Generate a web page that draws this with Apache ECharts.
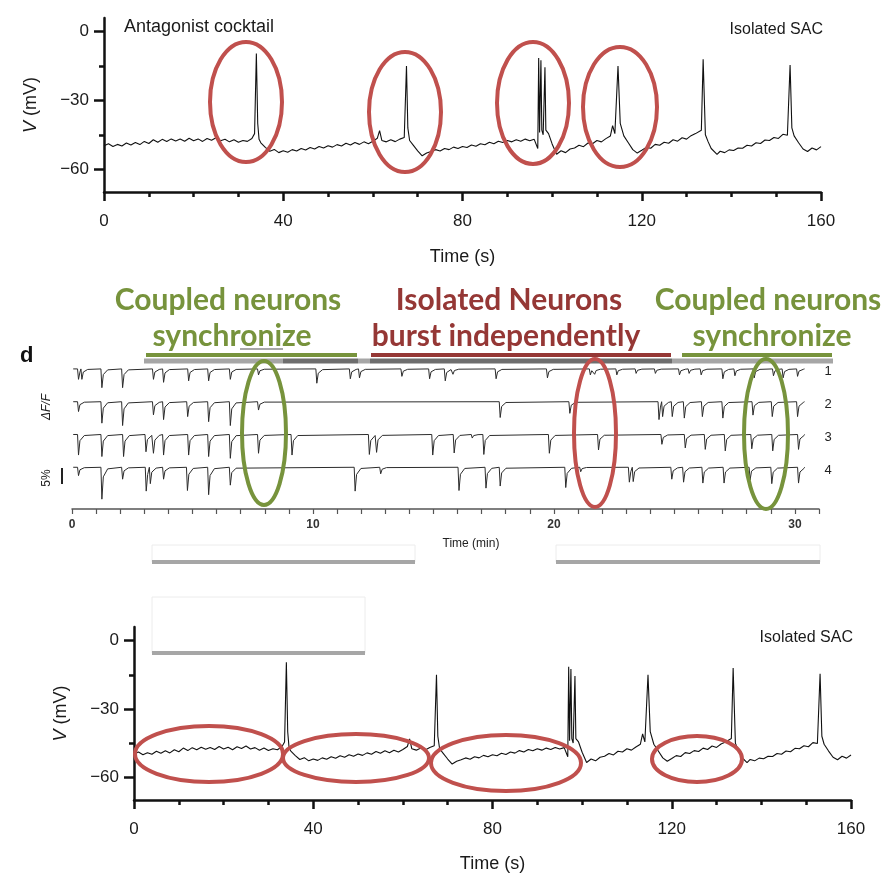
<!DOCTYPE html>
<html>
<head>
<meta charset="utf-8">
<script src="https://cdn.jsdelivr.net/npm/echarts@6/dist/echarts.min.js"></script>
<style>
  html, body { margin: 0; padding: 0; background: #fff; }
  #main { width: 891px; height: 878px; }
</style>
</head>
<body>
<div id="main"></div>
<script>
// membrane potential of the isolated SAC, [time (s), V (mV)]
var vmTrace = [
  [0,-49.8],[1,-48.9],[2,-50.1],[3,-49.2],[4,-49.9],[5,-48.6],[6,-49.5],[7,-48.4],[8,-49.3],[9,-47.9],
  [10,-48.8],[11,-47.2],[12,-48.3],[13,-47.0],[14,-47.9],[15,-46.8],[16,-47.7],[17,-46.9],[18,-47.8],[19,-46.5],
  [20,-47.6],[21,-46.8],[22,-47.9],[23,-46.6],[24,-47.4],[25,-46.3],[26,-47.6],[27,-47.0],[28,-48.1],[29,-47.2],
  [30,-48.3],[31,-47.5],[32,-47.9],[33,-46.6],[33.6,-44.5],[34.0,-9.5],[34.3,-40],[34.6,-47],[35,-48.5],[36,-50.5],
  [37,-52.2],[38,-51.4],[39,-52.8],[40,-52.0],[41,-52.6],[42,-51.5],[43,-52.1],[44,-51.0],[45,-51.7],[46,-50.6],
  [47,-51.2],[48,-50.1],[49,-50.8],[50,-49.8],[51,-50.4],[52,-49.3],[53,-49.9],[54,-48.7],[55,-49.5],[56,-48.4],
  [57,-49.2],[58,-48.1],[59,-48.9],[60,-47.8],[61,-46.5],[61.5,-43.2],[62,-47.5],[63,-48.1],[64,-47.2],[65,-48.0],
  [66,-46.9],[67,-46.2],[67.5,-15],[67.8,-42],[68.2,-47.5],[69,-49.5],[70,-52],[71,-54.2],[72,-53],[73,-52.3],
  [74,-51.5],[75,-52.1],[76,-51],[77,-51.5],[78,-50.4],[79,-51],[80,-50.1],[81,-50.6],[82,-49.5],[83,-50],
  [84,-48.9],[85,-49.4],[86,-48.3],[87,-48.9],[88,-47.8],[89,-48.4],[90,-47.5],[91,-48.1],[92,-47.2],[93,-47.8],
  [94,-46.9],[95,-47.6],[96,-47],[96.8,-51],[97.0,-11.5],[97.2,-44],[97.5,-12.5],[97.7,-43],[98.0,-45],[98.4,-15.5],
  [98.6,-43],[99.2,-44.5],[100,-49],[101,-53.5],[102,-52],[103,-52.8],[104,-51.2],[105,-50.8],[106,-49.6],[107,-50.2],
  [108,-48.6],[109,-48.9],[110,-47.5],[111,-48.1],[112,-46.7],[113,-45.5],[113.5,-41],[114,-44.5],[114.7,-15],[115.2,-40],
  [116,-45.5],[117,-48.5],[118,-51.5],[119,-53],[120,-51.8],[121,-50.5],[122,-50.9],[123,-49.2],[124,-49.6],[125,-48.3],
  [126,-48.7],[127,-47.2],[128,-47.8],[129,-46.3],[130,-46.9],[131,-45.4],[132,-44.5],[133.3,-43],[133.7,-12],[134.2,-45],
  [134.8,-48],[135.5,-51],[136.8,-53.6],[137.5,-52.2],[138.5,-52.8],[139.5,-51.6],[140.5,-51.9],[141.5,-50.8],[142.5,-50.9],[143.5,-49.6],
  [144.5,-49.9],[145.5,-48.5],[146.5,-48.8],[147.5,-47.3],[148.5,-47.5],[149.5,-46.2],[150.5,-46.6],[151.5,-44.8],[152.5,-45.2],[153.1,-14.5],
  [153.5,-42],[154,-45.5],[155,-48.5],[156,-51.2],[157,-52.3],[158,-50.8],[159,-51.6],[160,-50.2]
];

// calcium events per neuron, [time (min), dF/F drop (%)]
var cell1Events = [
  [0.26,3.5],[0.4,3.5],[1.23,6.3],[2.09,6.3],[3.37,3.5],[3.79,4.5],[4.83,4],[5.66,4],[6.56,3.5],[7.73,2],
  [10.15,4.8],[11.54,3.3],[11.92,3],[13.68,2.5],[14.83,3.3],[15.48,4],[15.8,1.8],[17.59,3.3],[19.72,3],
  [21.5,2],[21.68,1.8],[22.6,2],[23.4,1.5],[24.2,1.5],[25.2,2],[25.6,1.5],[26.1,2],[27.0,3.3],[27.5,2.3],
  [28.3,3],[29.1,2.3],[29.5,3],[30.1,2.5]
];
var cell2Events = [
  [0.26,3.3],[1.23,7.2],[2.09,8],[3.37,4.4],[3.79,6],[4.79,5],[5.66,6.7],[6.56,8],[7.73,2.8],[17.76,5.3],
  [20.65,3.9],[24.35,6],[24.5,5],[24.9,5],[25.4,5.5],[26.15,5],[27.0,5.5],[28.25,4.5],[29.05,5],[30.1,5]
];
var cell3Events = [
  [0.26,6.9],[1.23,7.4],[2.13,7.4],[3.06,5.8],[3.37,6.3],[3.79,6.9],[4.83,6.9],[5.66,7.4],[6.56,8],[7.73,6.3],
  [9.12,6.9],[12.33,6.7],[12.63,6],[14.96,6.9],[15.85,6.2],[16.6,1.2],[17.08,6.7],[19.8,6.3],[21.84,5.2],
  [24.47,3.3],[25.44,4.5],[26.27,5],[27.1,5.5],[28.2,4.8],[29.07,5.5],[30.14,5]
];
var cell4Events = [
  [0.26,2.8],[1.23,10.7],[2.09,4],[3.07,8],[3.24,5.5],[3.79,4],[4.78,7.8],[5.66,9.2],[6.56,6],[11.74,8],
  [12.8,2.2],[16.05,7.8],[17.17,7],[17.76,6.3],[20.48,6.8],[21.1,1.5],[23.12,5],[23.28,4.8],[24.88,4],
  [25.37,5],[26.17,5.3],[27.05,5.3],[28.13,4.3],[29.03,5.5],[30.14,5.3]
];
var cellLabels = ['1', '2', '3', '4'];
var cellOffsets = [0, -11, -22, -33];

var vTicks = [-60, -30, 0];
var vMinorTicks = [-45, -15];
var minTicks = [0, 10, 20, 30];

var RED = '#c0504d', GREEN = '#77933c', DARKRED = '#953735';
var LIGHTBAR = '#a6a6a6', DARKBAR = '#6e6e6e';

// turn an event list into a line: flat baseline with sharp drops
function eventTrace(events, offset) {
  var pts = [[0.05, offset]];
  for (var i = 0; i < events.length; i++) {
    var t = events[i][0], d = events[i][1];
    var next = i + 1 < events.length ? events[i + 1][0] : 99;
    pts.push([t - 0.03, offset]);
    pts.push([t + 0.01, offset - d]);
    if (t + 0.07 < next - 0.03) pts.push([t + 0.07, offset - d * 0.3]);
    if (t + 0.25 < next - 0.03) pts.push([t + 0.25, offset - d * 0.05]);
  }
  pts.push([30.4, offset]);
  return pts;
}

function minus(v) { return v < 0 ? '\u2212' + (-v) : '' + v; }

var axisFont = { fontFamily: 'Liberation Sans', fontSize: 17, color: '#1a1a1a' };

function vmXAxis(gridIndex, gap) {
  return {
    type: 'value', gridIndex: gridIndex, min: 0, max: 160, interval: 40,
    name: 'Time (s)', nameLocation: 'middle', nameGap: gap,
    nameTextStyle: { fontFamily: 'Liberation Sans', fontSize: 18, color: '#1a1a1a' },
    axisLine: { onZero: false, lineStyle: { color: '#111', width: 2.5 } },
    axisTick: { length: 9, lineStyle: { color: '#111', width: 2.5 } },
    minorTick: { show: true, splitNumber: 4, length: 5, lineStyle: { color: '#111', width: 2.5 } },
    axisLabel: Object.assign({ margin: 21 }, axisFont),
    splitLine: { show: false }
  };
}
function vmYAxis(gridIndex) {
  return {
    type: 'value', gridIndex: gridIndex, min: -70, max: 6,
    name: '{i|V} (mV)', nameLocation: 'middle', nameGap: 64, nameRotate: 90,
    nameTextStyle: {
      fontFamily: 'Liberation Sans', fontSize: 18, color: '#1a1a1a',
      rich: { i: { fontFamily: 'Liberation Sans', fontSize: 18, fontStyle: 'italic', color: '#1a1a1a' } }
    },
    axisLine: { show: true, onZero: false, lineStyle: { color: '#111', width: 2.5 } },
    axisTick: { show: true, length: 10, customValues: vTicks, lineStyle: { color: '#111', width: 2.5 } },
    axisLabel: Object.assign({ margin: 15, customValues: vTicks, formatter: minus }, axisFont),
    splitLine: { show: false }
  };
}
function vmMinorAxis(gridIndex) {
  return {
    type: 'value', gridIndex: gridIndex, min: -70, max: 6, position: 'left',
    axisLine: { show: false, onZero: false },
    axisTick: { show: true, length: 5, customValues: vMinorTicks, lineStyle: { color: '#111', width: 2.5 } },
    axisLabel: { show: false },
    splitLine: { show: false }
  };
}

var chartDom = document.getElementById('main');
var myChart = echarts.init(chartDom);
var option;

var series = [
  { type: 'line', xAxisIndex: 0, yAxisIndex: 0, data: vmTrace, showSymbol: false, silent: true,
    lineStyle: { color: '#111', width: 1.1 } },
  { type: 'line', xAxisIndex: 2, yAxisIndex: 3, data: vmTrace, showSymbol: false, silent: true,
    lineStyle: { color: '#111', width: 1.1 } }
];
[cell1Events, cell2Events, cell3Events, cell4Events].forEach(function (ev, i) {
  series.push({
    type: 'line', xAxisIndex: 1, yAxisIndex: 2, data: eventTrace(ev, cellOffsets[i]),
    showSymbol: false, silent: true,
    lineStyle: { color: '#2b2b2b', width: 1 },
    endLabel: { show: true, formatter: cellLabels[i], offset: [12, 3],
      fontFamily: 'Liberation Sans', fontSize: 13, color: '#222' }
  });
});

function ellipse(cx, cy, rx, ry, color) {
  return { type: 'ellipse', shape: { cx: cx, cy: cy, rx: rx, ry: ry }, z: 100,
    style: { fill: 'none', stroke: color, lineWidth: 4 } };
}
function bar(x1, x2, y, color, w) {
  return { type: 'line', shape: { x1: x1, y1: y, x2: x2, y2: y }, z: 50,
    style: { stroke: color, lineWidth: w || 4 } };
}
function label(text, x, y, color, font, align) {
  return { type: 'text', x: x, y: y, z: 60,
    style: { text: text, fill: color, font: font, align: align || 'center', textAlign: align || 'center',
      verticalAlign: 'middle', textVerticalAlign: 'middle' } };
}
var bigFont = 'bold 30px Lato';

option = {
  animation: false,
  grid: [
    { left: 104, width: 717, top: 18, height: 174 },
    { left: 72, width: 747, top: 357, height: 152 },
    { left: 134, width: 717, top: 627, height: 173 }
  ],
  xAxis: [
    vmXAxis(0, 56),
    {
      type: 'value', gridIndex: 1, min: 0, max: 31, interval: 1,
      axisLine: { onZero: false, lineStyle: { color: '#555', width: 1.5 } },
      axisTick: { length: 5, lineStyle: { color: '#555', width: 1.2 } },
      axisLabel: { customValues: minTicks, margin: 10, fontFamily: 'Liberation Sans', fontSize: 12,
        fontWeight: 'bold', color: '#333' },
      splitLine: { show: false }
    },
    vmXAxis(2, 55)
  ],
  yAxis: [
    vmYAxis(0),
    vmMinorAxis(0),
    { type: 'value', gridIndex: 1, min: -47, max: 4, show: false },
    vmYAxis(2),
    vmMinorAxis(2)
  ],
  series: series,
  graphic: [
    // panel labels
    label('Antagonist cocktail', 124, 27, '#1a1a1a', '18px Liberation Sans', 'left'),
    label('Isolated SAC', 823, 30, '#1a1a1a', '16px Liberation Sans', 'right'),
    label('Isolated SAC', 853, 638, '#1a1a1a', '16px Liberation Sans', 'right'),
    label('d', 20, 356, '#111', 'bold 22px Liberation Sans', 'left'),
    { type: 'text', x: 47, y: 407, rotation: Math.PI / 2, z: 60,
      style: { text: '\u0394F/F', fill: '#222', font: 'italic 12px Liberation Sans',
        align: 'center', textAlign: 'center', verticalAlign: 'middle', textVerticalAlign: 'middle' } },
    { type: 'text', x: 47, y: 478, rotation: Math.PI / 2, z: 60,
      style: { text: '5%', fill: '#222', font: '12px Liberation Sans',
        align: 'center', textAlign: 'center', verticalAlign: 'middle', textVerticalAlign: 'middle' } },
    { type: 'line', shape: { x1: 62, y1: 468, x2: 62, y2: 484 }, style: { stroke: '#222', lineWidth: 2 } },
    label('Time (min)', 471, 544, '#222', '12px Liberation Sans'),

    // headings over the imaging panel
    label('Coupled neurons', 228, 300, GREEN, bigFont),
    label('synchronize', 232, 336, GREEN, bigFont),
    label('Isolated Neurons', 509, 300, DARKRED, bigFont),
    label('burst independently', 506, 336, DARKRED, bigFont),
    label('Coupled neurons', 768, 300, GREEN, bigFont),
    label('synchronize', 772, 336, GREEN, bigFont),
    bar(146, 357, 355, GREEN, 4),
    bar(371, 671, 355, DARKRED, 4),
    bar(682, 832, 355, GREEN, 4),
    bar(240, 283, 349, '#8a8a8a', 1.5),

    // drug application bars
    bar(144, 283, 361, LIGHTBAR, 5),
    bar(283, 358, 361, DARKBAR, 5),
    bar(358, 370, 361, LIGHTBAR, 5),
    bar(370, 672, 361, DARKBAR, 5),
    bar(672, 680, 361, LIGHTBAR, 5),
    bar(680, 833, 361, LIGHTBAR, 5),
    bar(152, 415, 562, LIGHTBAR, 4),
    bar(556, 820, 562, LIGHTBAR, 4),
    bar(152, 365, 653, LIGHTBAR, 4),
    { type: 'rect', shape: { x: 152, y: 545, width: 263, height: 17 }, style: { fill: 'none', stroke: '#ececec', lineWidth: 1 } },
    { type: 'rect', shape: { x: 556, y: 545, width: 264, height: 17 }, style: { fill: 'none', stroke: '#ececec', lineWidth: 1 } },
    { type: 'rect', shape: { x: 152, y: 597, width: 213, height: 56 }, style: { fill: 'none', stroke: '#ececec', lineWidth: 1 } },

    // highlight ellipses
    ellipse(246, 102, 36, 60, RED),
    ellipse(405, 112, 36, 60, RED),
    ellipse(533, 103, 36, 61, RED),
    ellipse(620, 107, 37, 60, RED),
    ellipse(264, 433, 22, 72, GREEN),
    ellipse(595, 433, 21, 74, RED),
    ellipse(766, 434, 22, 75, GREEN),
    ellipse(209, 754, 74, 28, RED),
    ellipse(356, 758, 73, 24, RED),
    ellipse(506, 763, 75, 28, RED),
    ellipse(697, 759, 45, 23, RED)
  ]
};

if (option && typeof option === 'object') {
  myChart.setOption(option);
}
</script>
</body>
</html>
